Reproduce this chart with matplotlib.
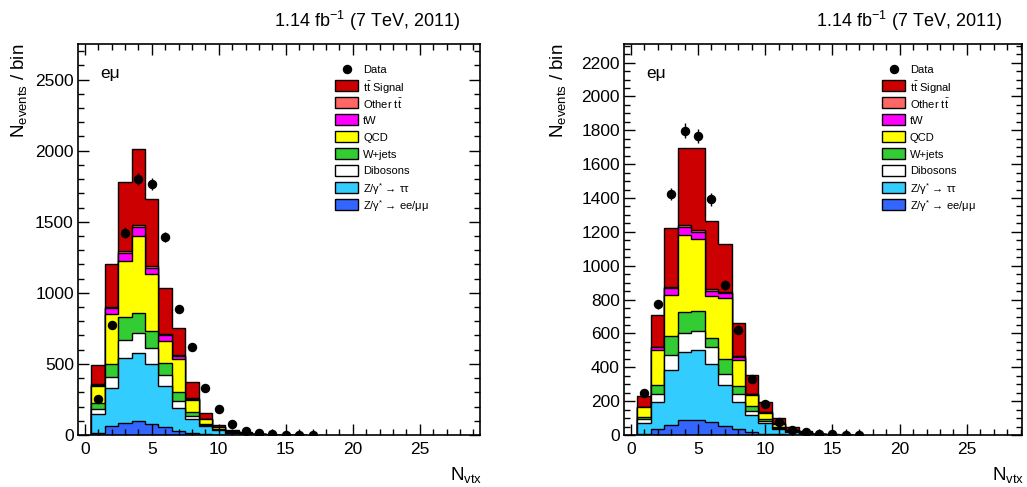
import numpy as np
import matplotlib
matplotlib.use("Agg")
from matplotlib import pyplot as plt
from matplotlib.patches import Rectangle
from matplotlib.ticker import MultipleLocator

plt.rcParams['font.family'] = ['Liberation Sans', 'DejaVu Sans']
plt.rcParams['mathtext.fontset'] = 'custom'
plt.rcParams['mathtext.rm'] = 'Liberation Sans'
plt.rcParams['mathtext.it'] = 'Liberation Sans:italic'
plt.rcParams['mathtext.bf'] = 'Liberation Sans:bold'

# data, N_vtx = 1..17 (same in both panels)
nvtx = np.arange(1, 18)
data = np.array([250, 772, 1424, 1798, 1768, 1392, 887, 622, 329, 181, 79, 30, 15, 6, 3, 2, 1])

# simulation per bin, N_vtx = 1..16, stacked from bottom
labels = ["Z/γ$^{*}$ → ee/μμ", "Z/γ$^{*}$ → ττ", "Dibosons", "W+jets", "QCD", "tW",
          r"Other t$\mathregular{\bar{t}}$", r"t$\mathregular{\bar{t}}$ Signal"]
colors = ["#3366ff", "#33ccff", "#ffffff", "#33cc33", "#ffff00", "#ff00ff", "#ff6666", "#cc0000"]

# left panel
zll_l = [16, 63, 87, 101, 77, 54, 31, 12, 6, 3, 1, 1, 0, 0, 0, 0]
ztt_l = [132, 266, 453, 479, 423, 291, 162, 98, 56, 30, 14, 8, 3, 1, 0, 0]
dib_l = [33, 77, 129, 136, 110, 75, 49, 24, 8, 4, 2, 1, 1, 0, 0, 0]
wj_l = [42, 92, 164, 145, 122, 89, 63, 30, 10, 7, 3, 2, 1, 0, 0, 0]
qcd_l = [124, 354, 388, 536, 399, 153, 230, 84, 30, 9, 5, 3, 1, 1, 0, 0]
tw_l = [7, 40, 58, 65, 43, 38, 21, 7, 2, 1, 1, 0, 0, 0, 0, 0]
ott_l = [3, 10, 12, 15, 12, 8, 6, 3, 1, 1, 0, 0, 0, 0, 0, 0]
sig_l = [134, 302, 488, 535, 476, 323, 194, 113, 44, 17, 9, 6, 2, 1, 1, 0]

# right panel
zll_r = [6, 36, 62, 86, 86, 74, 52, 33, 18, 8, 4, 2, 1, 0, 0, 0]
ztt_r = [66, 159, 323, 405, 417, 344, 242, 164, 99, 63, 34, 15, 7, 3, 1, 0]
dib_r = [20, 47, 89, 111, 113, 99, 65, 47, 24, 12, 6, 3, 1, 0, 0, 0]
wj_r = [16, 54, 112, 127, 119, 54, 89, 46, 30, 13, 6, 3, 2, 1, 0, 0]
qcd_r = [55, 205, 244, 455, 421, 249, 362, 154, 66, 36, 16, 8, 4, 1, 1, 0]
tw_r = [2, 16, 39, 46, 44, 33, 30, 18, 5, 2, 1, 1, 0, 0, 0, 0]
ott_r = [0, 5, 8, 10, 10, 8, 5, 4, 2, 1, 1, 0, 0, 0, 0, 0]
sig_r = [65, 187, 347, 458, 484, 402, 286, 194, 109, 61, 34, 15, 7, 3, 1, 1]

edges = np.arange(0.5, 17.5)

fig = plt.figure(figsize=(10.27, 4.87), dpi=100)
ax1 = fig.add_axes([78 / 1027, 52 / 487, 402 / 1027, 391 / 487])
ax2 = fig.add_axes([624 / 1027, 52 / 487, 398 / 1027, 391 / 487])


def legend(ax, x0px, wpx):
    # ROOT-style legend, built by hand so every row has the same pitch
    hpx = 391.0
    fx = lambda p: p / wpx
    fy = lambda p: p / hpx
    y = 1 - fy(25)
    ax.plot([x0px / wpx + fx(11.5)], [y], "o", color="black", ms=5.8, transform=ax.transAxes,
            clip_on=False, zorder=6)
    ax.text(x0px / wpx + fx(28), y, "Data", transform=ax.transAxes, ha="left",
            va="center_baseline", fontsize=8)
    for k in reversed(range(len(labels))):
        y -= fy(16.9)
        ax.add_patch(Rectangle((x0px / wpx, y - fy(5.5)), fx(23), fy(11), transform=ax.transAxes,
                               facecolor=colors[k], edgecolor="black", linewidth=1.0, zorder=6))
        ax.text(x0px / wpx + fx(28), y, labels[k], transform=ax.transAxes, ha="left",
                va="center_baseline", fontsize=8)


def draw(ax, comps, ymax, ystep, yminor, xmax, ylab_x, wpx, leg_px):
    cum = np.cumsum(np.array(comps), axis=0)
    for k in reversed(range(len(comps))):
        ax.stairs(cum[k], edges, fill=True, facecolor=colors[k], edgecolor="black", linewidth=1.0)
    ax.errorbar(nvtx, data, yerr=np.sqrt(data), fmt="o", color="black", ms=5.8,
                elinewidth=1, capsize=0, zorder=5)
    ax.set_xlim(-0.5, xmax)
    ax.set_ylim(0, ymax)
    ax.xaxis.set_major_locator(MultipleLocator(5))
    ax.xaxis.set_minor_locator(MultipleLocator(1))
    ax.yaxis.set_major_locator(MultipleLocator(ystep))
    ax.yaxis.set_minor_locator(MultipleLocator(yminor))
    ax.tick_params(which="both", direction="in", top=True, right=True, width=1, labelsize=12.5)
    ax.tick_params(which="major", length=8)
    ax.tick_params(which="minor", length=4)
    ax.tick_params(axis="x", pad=5)
    ax.tick_params(axis="y", pad=3)
    for s in ax.spines.values():
        s.set_linewidth(1.2)
        s.set_zorder(10)

    ax.text(1 - 20 / wpx, 1.043, "1.14 fb$^{-1}$ (7 TeV, 2011)", transform=ax.transAxes,
            ha="right", va="baseline", fontsize=13)
    ax.text(0.055, 0.913, "eμ", transform=ax.transAxes, ha="left", va="baseline", fontsize=12.5)
    ax.text(ylab_x, 1.0, r"N$_{\mathregular{events}}$ / bin", transform=ax.transAxes,
            rotation=90, ha="center", va="top", fontsize=13.5)
    ax.text(1.005, -0.115, r"N$_{\mathregular{vtx}}$", transform=ax.transAxes,
            ha="right", va="baseline", fontsize=13.5)
    legend(ax, leg_px, wpx)


draw(ax1, [zll_l, ztt_l, dib_l, wj_l, qcd_l, tw_l, ott_l, sig_l], 2750, 500, 100, 29.5, -0.147, 402.0, 257)
draw(ax2, [zll_r, ztt_r, dib_r, wj_r, qcd_r, tw_r, ott_r, sig_r], 2310, 200, 50, 29.1, -0.167, 398.0, 258)

fig.savefig("out.png", dpi=100)
